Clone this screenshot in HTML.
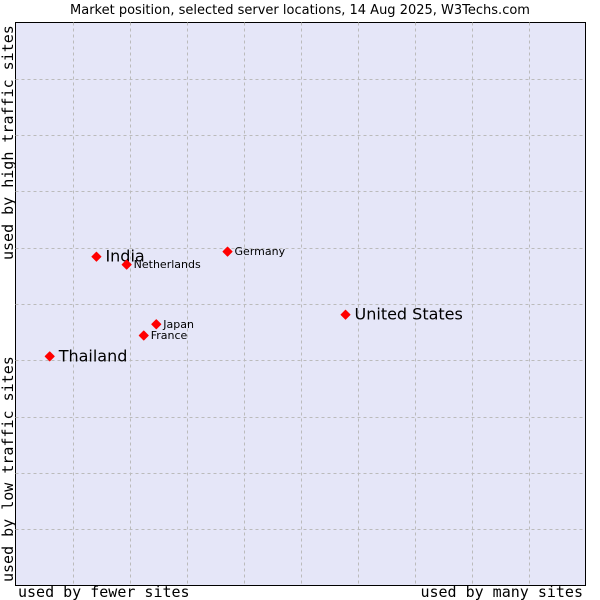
<!DOCTYPE html>
<html><head><meta charset="utf-8"><style>
body{margin:0;background:#fff;}
svg{display:block;}
</style></head><body>
<svg width="600" height="600" xmlns="http://www.w3.org/2000/svg">
<text x="300" y="14" text-anchor="middle" font-family="DejaVu Sans, sans-serif" font-size="13" fill="#000">Market position, selected server locations, 14 Aug 2025, W3Techs.com</text>
<rect x="15.5" y="22.5" width="570" height="563" fill="#e5e6f8" stroke="#000" stroke-width="1"/>
<g id="grid"></g>
<g id="pts"></g>
<text x="18" y="597" font-family="DejaVu Sans Mono, monospace" font-size="15">used by fewer sites</text>
<text x="583" y="597" text-anchor="end" font-family="DejaVu Sans Mono, monospace" font-size="15">used by many sites</text>
<text transform="translate(13,260) rotate(-90)" font-family="DejaVu Sans Mono, monospace" font-size="15">used by high traffic sites</text>
<text transform="translate(13,582) rotate(-90)" font-family="DejaVu Sans Mono, monospace" font-size="15">used by low traffic sites</text>
</svg>
<script>
const countries=["India","Netherlands","Germany","United States","Japan","France","Thailand"];
const xVals=[14.2,19.5,37.2,57.9,24.7,22.5,6.0];
const yVals=[58.4,57.0,59.3,48.1,46.4,44.4,40.7];
const bigLabel=[true,false,false,true,false,false,true];
const NS="http://www.w3.org/2000/svg";
const X0=15.5,W=570,Y0=22.5,H=563;
const xs=v=>X0+v/100*W, ys=v=>Y0+H-v/100*H;
const grid=document.getElementById('grid');
for(let i=1;i<10;i++){
 const l=document.createElementNS(NS,'line');
 
 
 const x=Math.round(xs(i*10))+0.5;
 l.setAttribute('x1',x);l.setAttribute('x2',x);l.setAttribute('y1',Y0);l.setAttribute('y2',Y0+H);
 l.setAttribute('stroke','#bbbbbb');l.setAttribute('stroke-dasharray','3,3');grid.appendChild(l);
 const h=document.createElementNS(NS,'line');
 
 
 const y=Math.round(ys(i*10))+0.5;
 h.setAttribute('x1',X0);h.setAttribute('x2',X0+W);h.setAttribute('y1',y);h.setAttribute('y2',y);
 h.setAttribute('stroke','#bbbbbb');h.setAttribute('stroke-dasharray','3,3');grid.appendChild(h);
}
const pts=document.getElementById('pts');
countries.forEach((c,i)=>{
 const x=xs(xVals[i]),y=ys(yVals[i]);
 const p=document.createElementNS(NS,'polygon');
 
 
 p.setAttribute('points',`${x},${y-4.5} ${x+4.5},${y} ${x},${y+4.5} ${x-4.5},${y}`);
 p.setAttribute('fill','#f00');p.setAttribute('stroke','#f00');p.setAttribute('stroke-linejoin','round');
 pts.appendChild(p);
 const t=document.createElementNS(NS,'text');
 
 
 const big=bigLabel[i];
 t.setAttribute('x',x+(big?9:7));t.setAttribute('y',y+(big?5:3.5));
 t.setAttribute('font-family','DejaVu Sans, sans-serif');t.setAttribute('font-size',big?16:11);
 t.textContent=c;pts.appendChild(t);
});
</script>
</body></html>
